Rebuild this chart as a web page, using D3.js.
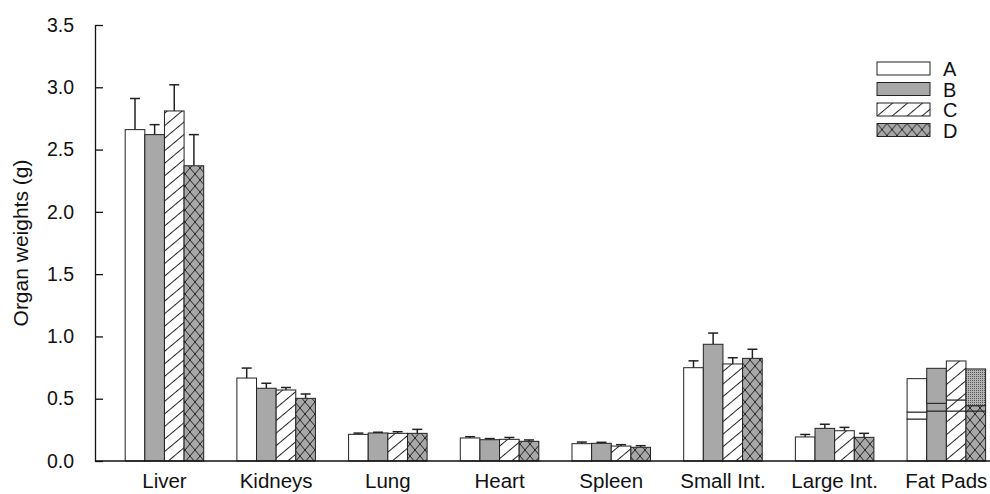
<!DOCTYPE html>
<html>
<head>
<meta charset="utf-8">
<script src="https://cdn.jsdelivr.net/npm/d3@7"></script>
<style>
  html, body { margin: 0; padding: 0; background: #fff; }
  svg { display: block; }
  text { font-family: "Liberation Sans", Arial, sans-serif; fill: #111; }
</style>
</head>
<body>
<svg id="chart" width="990" height="494"></svg>
<script>
// Organ groups and treatment series
const categories = ["Liver", "Kidneys", "Lung", "Heart", "Spleen", "Small Int.", "Large Int.", "Fat Pads"];
const series = ["A", "B", "C", "D"];

// Mean organ weights (g) and SEM for the single-bar organs (all but Fat Pads)
const meanA = [2.66, 0.666, 0.214, 0.185, 0.139, 0.749, 0.193];
const meanB = [2.62, 0.584, 0.225, 0.171, 0.142, 0.937, 0.262];
const meanC = [2.81, 0.570, 0.222, 0.174, 0.120, 0.779, 0.243];
const meanD = [2.37, 0.503, 0.222, 0.158, 0.110, 0.824, 0.190];
const errA = [0.25, 0.080, 0.010, 0.010, 0.013, 0.055, 0.020];
const errB = [0.08, 0.040, 0.006, 0.009, 0.008, 0.090, 0.033];
const errC = [0.21, 0.020, 0.013, 0.015, 0.011, 0.050, 0.027];
const errD = [0.25, 0.035, 0.032, 0.011, 0.013, 0.073, 0.032];

// Fat pads drawn as stacked segments, one value per series A-D
const fatSeg1 = [0.337, 0.401, 0.401, 0.401];
const fatSeg2 = [0.056, 0.062, 0.089, 0.043];
const fatSeg3 = [0.268, 0.281, 0.313, 0.295];

const yTicks = [0, 0.5, 1.0, 1.5, 2.0, 2.5, 3.0, 3.5];

const means = [meanA, meanB, meanC, meanD];
const errs = [errA, errB, errC, errD];

const svg = d3.select("#chart");
const axisX = 95, axisBottom = 461, axisTop = 25;
const fontFamily = "'Liberation Sans', Arial, sans-serif";

const y = d3.scaleLinear().domain([0, 3.5]).range([axisBottom, axisTop]);
const x = d3.scaleBand().domain(categories)
  .range([108.6, 1002.2]).paddingInner(0.297).paddingOuter(0.1485);
const xs = d3.scaleBand().domain(series).range([0, x.bandwidth()]);

// Fill patterns
const defs = svg.append("defs");
const hatch = defs.append("pattern").attr("id", "hatch")
  .attr("patternUnits", "userSpaceOnUse").attr("width", 10).attr("height", 9.6)
  .attr("patternTransform", "rotate(-40)");
hatch.append("rect").attr("width", 10).attr("height", 9.6).attr("fill", "#fff");
hatch.append("line").attr("x1", 0).attr("x2", 10).attr("y1", 0.5).attr("y2", 0.5)
  .attr("stroke", "#222").attr("stroke-width", 1);

const cross = defs.append("pattern").attr("id", "cross")
  .attr("patternUnits", "userSpaceOnUse").attr("width", 10).attr("height", 12);
cross.append("rect").attr("width", 10).attr("height", 12).attr("fill", "#a8a8a8");
cross.append("path").attr("d", "M0,0L10,12M10,0L0,12")
  .attr("stroke", "#222").attr("stroke-width", 1).attr("fill", "none");

const dots = defs.append("pattern").attr("id", "dots")
  .attr("patternUnits", "userSpaceOnUse").attr("width", 2).attr("height", 2);
dots.append("rect").attr("width", 2).attr("height", 2).attr("fill", "#b4b4b4");
dots.append("rect").attr("width", 1).attr("height", 1).attr("fill", "#555");

const fills = { A: "#fff", B: "#a8a8a8", C: "url(#hatch)", D: "url(#cross)" };
const stroke = "#222";

// Single bars with upward error bars
const organs = categories.slice(0, 7);
const bars = [];
organs.forEach((cat, i) => {
  series.forEach((s, j) => bars.push({ cat, s, v: means[j][i], e: errs[j][i] }));
});

const gBars = svg.append("g");
gBars.selectAll("line.err").data(bars).join("line").attr("class", "err")
  .attr("x1", d => x(d.cat) + xs(d.s) + xs.bandwidth() / 2)
  .attr("x2", d => x(d.cat) + xs(d.s) + xs.bandwidth() / 2)
  .attr("y1", d => y(d.v)).attr("y2", d => y(d.v + d.e))
  .attr("stroke", stroke).attr("stroke-width", 1.5);
gBars.selectAll("line.cap").data(bars).join("line").attr("class", "cap")
  .attr("x1", d => x(d.cat) + xs(d.s) + xs.bandwidth() / 2 - 5)
  .attr("x2", d => x(d.cat) + xs(d.s) + xs.bandwidth() / 2 + 5)
  .attr("y1", d => y(d.v + d.e)).attr("y2", d => y(d.v + d.e))
  .attr("stroke", stroke).attr("stroke-width", 1.5);
gBars.selectAll("rect.bar").data(bars).join("rect").attr("class", "bar")
  .attr("x", d => x(d.cat) + xs(d.s))
  .attr("width", xs.bandwidth())
  .attr("y", d => y(d.v))
  .attr("height", d => y(0) - y(d.v))
  .attr("fill", d => fills[d.s])
  .attr("stroke", stroke).attr("stroke-width", 1);

// Fat pads stacked bars
const fatRows = series.map((s, j) => ({ s, seg1: fatSeg1[j], seg2: fatSeg2[j], seg3: fatSeg3[j] }));
const stacked = d3.stack().keys(["seg1", "seg2", "seg3"])(fatRows);
const fatCat = categories[7];
const gFat = svg.append("g");
stacked.forEach(layer => {
  gFat.selectAll(null).data(layer).join("rect")
    .attr("x", d => x(fatCat) + xs(d.data.s))
    .attr("width", xs.bandwidth())
    .attr("y", d => y(d[1]))
    .attr("height", d => y(d[0]) - y(d[1]))
    .attr("fill", d => (d.data.s === "D" && layer.key === "seg3") ? "url(#dots)" : fills[d.data.s])
    .attr("stroke", stroke).attr("stroke-width", 1);
});

// Axes
const yAxis = d3.axisLeft(y).tickValues(yTicks).tickFormat(d3.format(".1f"))
  .tickSizeInner(-8).tickSizeOuter(0).tickPadding(21);
const gy = svg.append("g").attr("transform", `translate(${axisX},0)`).call(yAxis);
gy.select(".domain").attr("stroke", "#111").attr("stroke-width", 1.3);
gy.selectAll(".tick line").attr("stroke", "#111").attr("stroke-width", 1.3);
gy.selectAll(".tick text").attr("font-size", 19.5).attr("fill", "#111")
  .style("font-family", fontFamily);

const xAxis = d3.axisBottom(x).tickSize(0).tickPadding(12);
const gx = svg.append("g").attr("transform", `translate(0,${axisBottom})`).call(xAxis);
gx.select(".domain").attr("stroke", "#111").attr("stroke-width", 1.3)
  .attr("d", `M${axisX},0H990`);
gx.selectAll(".tick text").attr("font-size", 20.5).attr("fill", "#111")
  .style("font-family", fontFamily);

// Y axis title
svg.append("text")
  .attr("transform", `translate(28,${(axisTop + axisBottom) / 2}) rotate(-90)`)
  .attr("text-anchor", "middle").attr("font-size", 21)
  .text("Organ weights (g)");

// Legend
const legend = svg.append("g").attr("transform", "translate(877,62)");
series.forEach((s, j) => {
  const g = legend.append("g").attr("transform", `translate(0,${j * 20.5})`);
  g.append("rect").attr("width", 53).attr("height", 13)
    .attr("fill", fills[s]).attr("stroke", stroke).attr("stroke-width", 1);
  g.append("text").attr("x", 66).attr("y", 7).attr("dy", "0.36em")
    .attr("font-size", 20).text(s);
});
</script>
</body>
</html>
